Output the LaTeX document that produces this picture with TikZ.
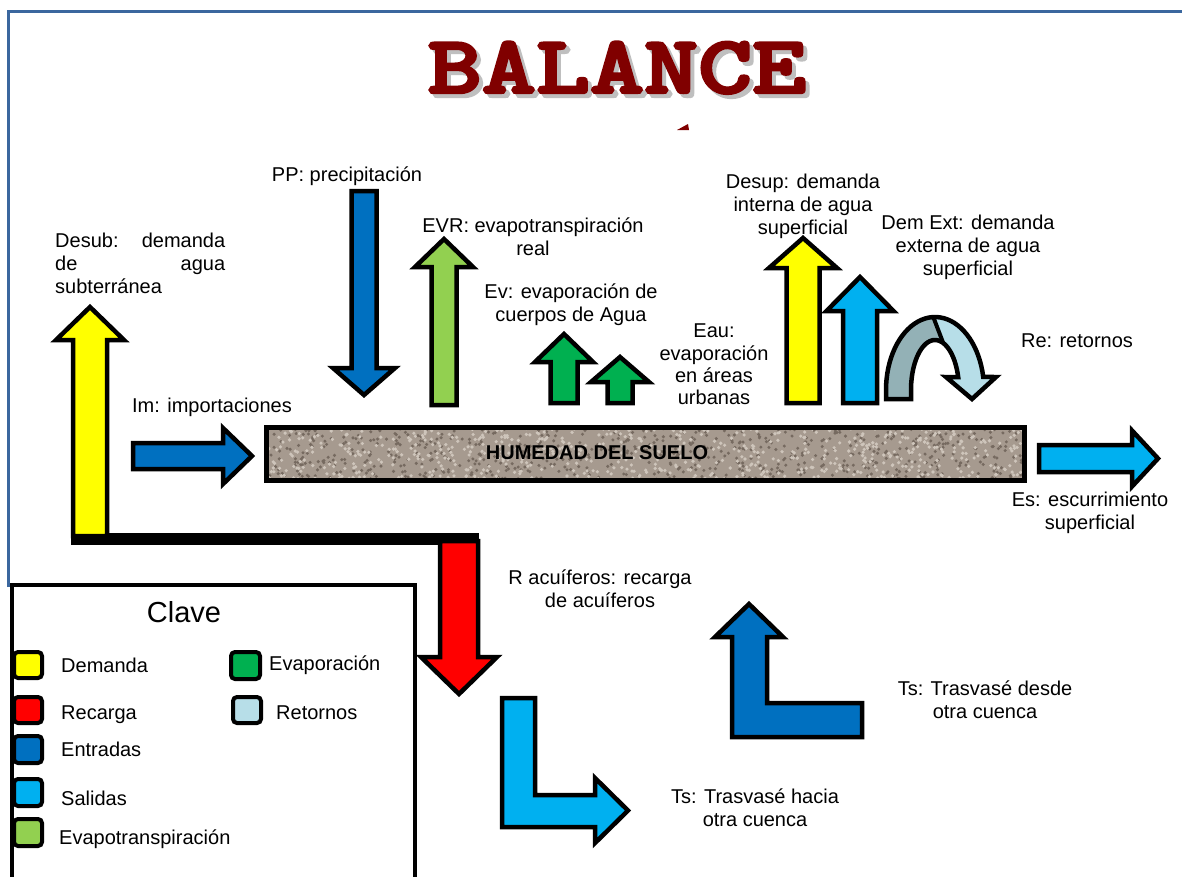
\documentclass[tikz,border=0pt]{standalone}
\usepackage{fontspec}
\setmainfont{Liberation Sans}
\newfontfamily\titlefont{lmmonolt10-bold.otf}[FakeBold=3]
\definecolor{frameblue}{HTML}{3B679E}
\definecolor{titlered}{HTML}{800000}
\definecolor{shadowgrey}{HTML}{BFBFBF}
\definecolor{demcol}{HTML}{FFFF00}
\definecolor{reccol}{HTML}{FF0000}
\definecolor{entcol}{HTML}{0070C0}
\definecolor{salcol}{HTML}{00B0F0}
\definecolor{evtcol}{HTML}{92D050}
\definecolor{evacol}{HTML}{00B050}
\definecolor{retlight}{HTML}{B7DEE8}
\definecolor{retdark}{HTML}{93B1B6}
\definecolor{soil}{HTML}{A69A8F}
\definecolor{soildark}{HTML}{766A60}
\definecolor{soillight}{HTML}{CEC5BB}
\newcommand\labfont{\fontsize{20}{23}\selectfont}
\newcommand\titletext{\scalebox{1}[0.8]{BALANCE}}
% vertical block arrow: colour, x centre, shaft half width, shaft end y, head base y, head half width, tip y
\newcommand\vertarrow[7]{\filldraw[arrowbox, fill=#1] (#2-#3,#4) -- (#2-#3,#5) -- (#2-#6,#5) -- (#2,#7) -- (#2+#6,#5) -- (#2+#3,#5) -- (#2+#3,#4) -- cycle;}
% horizontal block arrow: colour, y centre, shaft half width, shaft end x, head base x, head half width, tip x
\newcommand\horzarrow[7]{\filldraw[arrowbox, fill=#1] (#4,#2-#3) -- (#5,#2-#3) -- (#5,#2-#6) -- (#7,#2) -- (#5,#2+#6) -- (#5,#2+#3) -- (#4,#2+#3) -- cycle;}
\begin{document}
\begin{tikzpicture}[x=1pt,y=-1pt,
  arrowbox/.style={draw=black, line width=4.5pt, line join=miter},
  lab/.style={font=\labfont, align=center, inner sep=0pt, anchor=north, execute at begin node=\strut},
  keytext/.style={font=\labfont, inner sep=0pt, anchor=north west, execute at begin node=\strut},
  swatch/.style={draw=black, line width=4pt, rounded corners=4pt},
  framestroke/.style={draw=frameblue, line width=3pt},
  titlestyle/.style={anchor=base, inner sep=0pt, font=\titlefont\fontsize{103}{103}\selectfont}]
\useasboundingbox (0,0) rectangle (1182,876);
\fill[white] (0,0) rectangle (1182,876);

% frame
\draw[framestroke] (8,587) -- (8,11) -- (1185,11);

% title with shadow
\node[titlestyle, text=shadowgrey] (titleshadow) at (621,97) {\titletext};
\node[titlestyle, text=titlered] (title) at (617,93) {\titletext};
\fill[titlered] (677,130) -- (688,124) -- (689,130) -- cycle;

% soil bar
\begin{scope}
\clip (266,427) rectangle (1024,480);
\fill[soil] (266,427) rectangle (1024,480);
\pgfmathsetseed{12}
\foreach \i in {1,...,700}{\fill[soildark] ({266+758*rnd},{427+53*rnd}) circle[radius=1.7pt];}
\foreach \i in {1,...,700}{\fill[soillight] ({266+758*rnd},{427+53*rnd}) circle[radius=1.8pt];}
\end{scope}
\draw[line width=5pt] (266,427) rectangle (1024,480);
\node[anchor=base, inner sep=0pt, font=\bfseries\fontsize{20}{23}\selectfont] (suelo) at (597,459) {HUMEDAD DEL SUELO};

% groundwater L bar
\fill[black] (71,533) rectangle (479,545);
\vertarrow{demcol}{90}{17}{536}{340}{34}{307}
\vertarrow{reccol}{459}{19}{541}{657}{38}{694}

% inputs/outputs
\vertarrow{entcol}{364}{12.5}{191}{368}{31}{395}
\vertarrow{evtcol}{444}{12.5}{405}{267}{29}{239}
\vertarrow{evacol}{564}{13.5}{403}{362}{29}{334}
\vertarrow{evacol}{620}{12.5}{403}{382}{29}{357}
\vertarrow{demcol}{803}{16.5}{403}{268}{34}{238}
\vertarrow{salcol}{860}{17}{403}{311}{33.5}{277}
\horzarrow{entcol}{456}{13}{133}{223}{28}{252}
\horzarrow{salcol}{458.5}{13.5}{1039}{1132}{28}{1158}

% return arrow
\fill[retlight] (886,399) -- plot[domain=180:349.7,samples=40] ({935+49*cos(\x)},{390+73*sin(\x)}) -- (996,377) -- (972,399) -- (946,377) -- plot[domain=345:180,samples=40] ({935+24*cos(\x)},{390+50*sin(\x)}) -- (911,399) -- cycle;
\fill[retdark] (886,399) -- plot[domain=180:268,samples=30] ({935+49*cos(\x)},{390+73*sin(\x)}) -- plot[domain=290:180,samples=30] ({935+24*cos(\x)},{390+50*sin(\x)}) -- (911,399) -- cycle;
\draw[line width=4pt] ({935+49*cos(268)},{390+73*sin(268)}) -- ({935+24*cos(290)},{390+50*sin(290)});
\draw[arrowbox] (886,399) -- plot[domain=180:349.7,samples=40] ({935+49*cos(\x)},{390+73*sin(\x)}) -- (996,377) -- (972,399) -- (946,377) -- plot[domain=345:180,samples=40] ({935+24*cos(\x)},{390+50*sin(\x)}) -- (911,399) -- cycle;

% transfer arrows
\filldraw[arrowbox, fill=salcol] (502,698) -- (535,698) -- (535,795) -- (595,795) -- (595,778) -- (628,810.5) -- (595,843) -- (595,827) -- (502,827) -- cycle;
\filldraw[arrowbox, fill=entcol] (749,604) -- (783,637) -- (767,637) -- (767,703) -- (862,703) -- (862,737) -- (732,737) -- (732,637) -- (715,637) -- cycle;

% labels
\node[lab] (pp) at (347,165) {PP: precipitación};
\node[lab, anchor=north west, align=left] (desub) at (55,233) {\hbox to 170pt{Desub:\hfill demanda}\\\hbox to 170pt{de\hfill agua}\\subterránea};
\node[lab] (evr) at (533,218) {EVR: evapotranspiración\\real};
\node[lab] (ev) at (571,284) {Ev: evaporación de\\cuerpos de Agua};
\node[lab, font=\fontsize{20}{22.3}\selectfont] (eau) at (714,324) {Eau:\\evaporación\\en áreas\\urbanas};
\node[lab] (desup) at (803,174) {Desup: demanda\\interna de agua\\superficial};
\node[lab] (demext) at (968,215) {Dem Ext: demanda\\externa de agua\\superficial};
\node[lab] (re) at (1077,331) {Re: retornos};
\node[lab] (es) at (1090,492) {Es: escurrimiento\\superficial};
\node[lab] (im) at (212,396) {Im: importaciones};
\node[lab] (racu) at (600,570) {R acuíferos: recarga\\de acuíferos};
\node[lab] (tsh) at (755,789) {Ts: Trasvasé hacia\\otra cuenca};
\node[lab] (tsd) at (985,681) {Ts: Trasvasé desde\\otra cuenca};

% legend
\filldraw[fill=white, draw=black, line width=4pt] (12,585) rectangle (415,885);
\node[anchor=base, inner sep=0pt, font=\fontsize{29}{32}\selectfont] (clave) at (184,622) {Clave};
\filldraw[swatch, fill=demcol] (14,652) rectangle (42,678);
\filldraw[swatch, fill=reccol] (14,697) rectangle (42,723);
\filldraw[swatch, fill=entcol] (14,736) rectangle (42,763);
\filldraw[swatch, fill=salcol] (14,779) rectangle (42,806);
\filldraw[swatch, fill=evtcol] (14,819) rectangle (42,846);
\filldraw[swatch, fill=evacol] (231,652) rectangle (260,679);
\filldraw[swatch, fill=retlight] (233,697) rectangle (261,723);
\node[keytext] (kdem) at (61,656) {Demanda};
\node[keytext] (krec) at (61,703) {Recarga};
\node[keytext] (kent) at (61,740) {Entradas};
\node[keytext] (ksal) at (61,789) {Salidas};
\node[keytext] (kevt) at (59,828) {Evapotranspiración};
\node[keytext] (keva) at (269,654) {Evaporación};
\node[keytext] (kret) at (276,703) {Retornos};
\end{tikzpicture}
\end{document}
